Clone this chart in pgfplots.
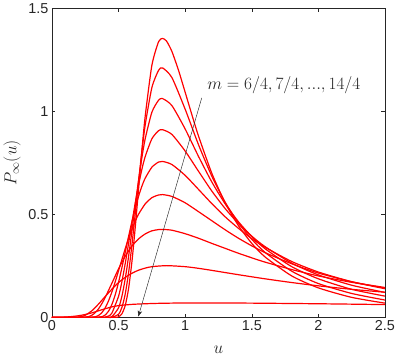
\documentclass[border=0pt]{standalone}
\usepackage{pgfplots}
\pgfplotsset{compat=1.18}
\usetikzlibrary{arrows.meta}
\usepackage{fontspec}
\newfontfamily\tickfont{Liberation Sans}
\definecolor{axgray}{RGB}{38,38,38}
\definecolor{mred}{RGB}{255,0,0}
\begin{document}
\begin{tikzpicture}
\begin{axis}[
  name=ax,
  at={(0,0)}, anchor=south west,
  width=333pt, height=309pt, scale only axis,
  xmin=0, xmax=2.5, ymin=0, ymax=1.5,
  xtick={0,0.5,1,1.5,2,2.5}, ytick={0,0.5,1,1.5},
  xticklabels={0,0.5,1,1.5,2,2.5}, yticklabels={0,0.5,1,1.5},
  /pgf/number format/assume math mode=true,
  tick align=inside, xtick pos=both, ytick pos=both,
  major tick length=3.5pt,
  axis line style={axgray, line width=0.5pt},
  every tick/.style={axgray, line width=0.5pt},
  tick label style={font=\tickfont\fontsize{14.4}{16}\selectfont, text=axgray},
  xlabel={$u$}, ylabel={$P_\infty(u)$},
  xlabel style={at={(axis description cs:0.5,-0.104)}, anchor=center, font=\fontsize{17}{20}\selectfont, text=axgray},
  ylabel style={at={(axis description cs:-0.12,0.5)}, anchor=center, font=\fontsize{17}{20}\selectfont, text=axgray},
  clip=false,
  cycle list={{mred, mark=none}},
  every axis plot post/.append style={mred, solid, line width=1.2pt, smooth, tension=0.4, mark=none},
]
% m = 6/4
\addplot coordinates {(0,0) (0.05,0.0003) (0.1,0.0015) (0.15,0.004) (0.2,0.008) (0.25,0.014) (0.3,0.022) (0.35,0.032) (0.4,0.042) (0.45,0.051) (0.5,0.057) (0.6,0.063) (0.7,0.066) (0.8,0.068) (1.0,0.070) (1.2,0.070) (1.5,0.069) (2.0,0.066) (2.5,0.062)};
% m = 7/4
\addplot coordinates {(0,0) (0.15,0) (0.175,0.0003) (0.2,0.0014) (0.225,0.0045) (0.25,0.0105) (0.3,0.0324) (0.35,0.065) (0.4,0.1016) (0.45,0.137) (0.5,0.169) (0.55,0.194) (0.6,0.214) (0.65,0.229) (0.7,0.239) (0.75,0.246) (0.86,0.251) (1.0,0.246) (1.1,0.238) (1.2,0.228) (1.4,0.207) (1.6,0.187) (1.8,0.169) (2.0,0.153) (2.25,0.136) (2.5,0.122)};
% m = 8/4
\addplot coordinates {(0,0) (0.2,0) (0.225,0.0001) (0.25,0.001) (0.275,0.0038) (0.3,0.0106) (0.325,0.023) (0.35,0.042) (0.375,0.0673) (0.4,0.0975) (0.45,0.166) (0.5,0.236) (0.55,0.297) (0.6,0.346) (0.65,0.381) (0.7,0.405) (0.75,0.420) (0.8,0.426) (0.83,0.427) (0.9,0.423) (1.0,0.406) (1.1,0.384) (1.2,0.359) (1.3,0.335) (1.4,0.311) (1.5,0.289) (1.6,0.268) (1.8,0.232) (2.0,0.201) (2.25,0.170) (2.5,0.145)};
% m = 9/4
\addplot coordinates {(0,0) (0.25,0) (0.3,0.0006) (0.325,0.0029) (0.35,0.0095) (0.375,0.0234) (0.4,0.047) (0.425,0.0808) (0.45,0.124) (0.475,0.1736) (0.5,0.227) (0.525,0.281) (0.55,0.334) (0.575,0.384) (0.6,0.428) (0.625,0.467) (0.65,0.501) (0.7,0.551) (0.75,0.581) (0.8,0.594) (0.83,0.596) (0.9,0.587) (1.0,0.556) (1.1,0.513) (1.2,0.469) (1.3,0.425) (1.4,0.384) (1.5,0.347) (1.6,0.314) (1.8,0.260) (2.0,0.215) (2.25,0.173) (2.5,0.142)};
% m = 10/4
\addplot coordinates {(0,0) (0.3,0) (0.35,0.0007) (0.375,0.0034) (0.4,0.0119) (0.425,0.0305) (0.45,0.063) (0.475,0.1105) (0.5,0.171) (0.525,0.242) (0.55,0.317) (0.575,0.393) (0.6,0.465) (0.625,0.531) (0.65,0.588) (0.675,0.637) (0.7,0.676) (0.75,0.729) (0.8,0.754) (0.83,0.757) (0.9,0.742) (1.0,0.689) (1.1,0.621) (1.2,0.552) (1.3,0.488) (1.4,0.432) (1.5,0.382) (1.6,0.340) (1.8,0.271) (2.0,0.220) (2.25,0.173) (2.5,0.139)};
% m = 11/4
\addplot coordinates {(0,0) (0.35,0) (0.4,0.0013) (0.425,0.0065) (0.45,0.021) (0.5,0.103) (0.525,0.174) (0.55,0.262) (0.575,0.359) (0.6,0.459) (0.625,0.556) (0.65,0.643) (0.675,0.719) (0.7,0.781) (0.75,0.867) (0.8,0.906) (0.83,0.911) (0.9,0.888) (1.0,0.807) (1.1,0.709) (1.2,0.613) (1.3,0.528) (1.4,0.455) (1.5,0.394) (1.6,0.343) (1.8,0.263) (2.0,0.206) (2.25,0.156) (2.5,0.121)};
% m = 12/4
\addplot coordinates {(0,0) (0.4,0) (0.45,0.0041) (0.5,0.047) (0.525,0.103) (0.55,0.188) (0.575,0.296) (0.6,0.419) (0.625,0.545) (0.65,0.667) (0.675,0.776) (0.7,0.868) (0.75,0.996) (0.8,1.054) (0.83,1.062) (0.9,1.028) (1.0,0.914) (1.1,0.781) (1.2,0.657) (1.3,0.551) (1.4,0.464) (1.5,0.392) (1.6,0.333) (1.8,0.246) (2.0,0.187) (2.25,0.136) (2.5,0.103)};
% m = 13/4
\addplot coordinates {(0,0) (0.4,0) (0.45,0.0004) (0.5,0.0154) (0.525,0.0485) (0.55,0.114) (0.575,0.217) (0.6,0.351) (0.625,0.503) (0.65,0.660) (0.675,0.807) (0.7,0.935) (0.75,1.116) (0.8,1.199) (0.83,1.211) (0.9,1.164) (1.0,1.010) (1.1,0.838) (1.2,0.685) (1.3,0.559) (1.4,0.458) (1.5,0.379) (1.6,0.315) (1.8,0.224) (2.0,0.164) (2.25,0.116) (2.5,0.084)};
% m = 14/4
\addplot coordinates {(0,0) (0.45,0) (0.5,0.0034) (0.525,0.0175) (0.55,0.058) (0.575,0.140) (0.6,0.270) (0.625,0.437) (0.65,0.624) (0.675,0.811) (0.7,0.978) (0.75,1.224) (0.8,1.338) (0.83,1.354) (0.86,1.341) (0.9,1.291) (0.95,1.199) (1.0,1.092) (1.05,0.984) (1.1,0.880) (1.2,0.699) (1.3,0.556) (1.4,0.445) (1.5,0.359) (1.6,0.293) (1.8,0.201) (2.0,0.143) (2.25,0.097) (2.5,0.069)};
\draw[axgray, line width=0.45pt, -{Stealth[length=6pt,width=4.5pt]}] (axis cs:1.124,1.065) -- (axis cs:0.648,0.004);
\node[anchor=base west, inner sep=0pt, text=axgray, font=\fontsize{16.5}{19}\selectfont] at (axis cs:1.165,1.105) {$m=6/4,7/4,...,14/4$};
\end{axis}
\path (ax.south west) ++(-52pt,-42pt) coordinate (bbA);
\path (ax.north east) ++(14pt,7pt) coordinate (bbB);
\path (bbA) rectangle (bbB);
\end{tikzpicture}
\end{document}
